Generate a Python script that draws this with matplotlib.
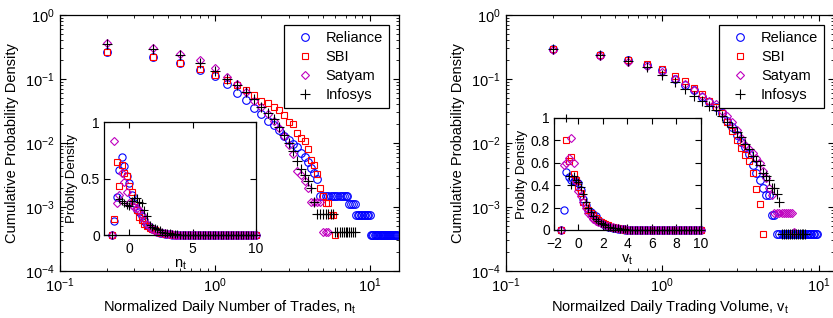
import matplotlib
matplotlib.use("Agg")
import matplotlib.pyplot as plt
import numpy as np

plt.rcParams['font.family'] = ['Liberation Sans', 'DejaVu Sans']
plt.rcParams['mathtext.fontset'] = 'custom'
plt.rcParams['mathtext.rm'] = 'Liberation Sans'
plt.rcParams['mathtext.it'] = 'Liberation Sans'

names = ["Reliance", "SBI", "Satyam", "Infosys"]

# CCDF bins (normalized value, step 0.2)
x_ccdf = np.round(np.arange(1, 76) * 0.2, 1)

# left: daily number of trades
trades_rel = [0.267, 0.218, 0.180, 0.138, 0.111, 0.083, 0.061, 0.047, 0.035, 0.028,
              0.022, 0.019, 0.016, 0.013, 0.0113, 0.0098, 0.0085, 0.0069, 0.006, 0.0050,
              0.0041, 0.0034, 0.0027] + [0.0015] * 13 + [0.00112] * 4 + [0.00075] * 10 + [0.00037] * 25
trades_sbi = [0.267, 0.218, 0.18, 0.143, 0.115, 0.096, 0.080, 0.066, 0.056, 0.046,
              0.042, 0.037, 0.033, 0.027, 0.021, 0.0196, 0.0145, 0.012, 0.0107, 0.0080,
              0.0055, 0.0045, 0.0033, 0.0020, 0.0015, 0.00114, 0.00114, 0.00075, 0.00075, 0.00037]
trades_sat = [0.36, 0.30, 0.246, 0.20, 0.15, 0.109, 0.082, 0.062, 0.046, 0.036,
              0.028, 0.022, 0.017, 0.013, 0.0093, 0.0067, 0.0036, 0.0031, 0.0025, 0.0020] \
    + [0.0012] * 4 + [0.0004] * 3
trades_inf = [0.35, 0.29, 0.235, 0.18, 0.135, 0.10, 0.08, 0.062, 0.048, 0.036,
              0.029, 0.024, 0.018, 0.0135, 0.010, 0.0076, 0.0053, 0.0039, 0.0032, 0.0025,
              0.0020, 0.0012] + [0.00078] * 7 + [0.0004] * 11

# right: daily trading volume
vol_rel = [0.29, 0.237, 0.20, 0.165, 0.138, 0.10, 0.081, 0.066, 0.053, 0.044,
           0.036, 0.029, 0.022, 0.018, 0.0133, 0.0105, 0.0085, 0.0066, 0.0045, 0.0034,
           0.0026, 0.0020, 0.00155, 0.00155] + [0.00075] * 2 + [0.00038] * 23
vol_sbi = [0.29, 0.237, 0.20, 0.17, 0.145, 0.113, 0.092, 0.072, 0.058, 0.046,
           0.036, 0.029, 0.021, 0.0155, 0.011, 0.0083, 0.0065, 0.0053, 0.0034, 0.0019,
           0.0011, 0.00038]
vol_sat = [0.28, 0.23, 0.185, 0.16, 0.13, 0.10, 0.082, 0.066, 0.055, 0.046,
           0.040, 0.032, 0.026, 0.021, 0.016, 0.012, 0.0093, 0.0080, 0.0069, 0.0058,
           0.0048, 0.0036, 0.0028, 0.002, 0.00155] + [0.0008] * 9 + [0.0004]
vol_inf = [0.29, 0.237, 0.19, 0.155, 0.116, 0.088, 0.07, 0.055, 0.046, 0.038,
           0.033, 0.026, 0.021, 0.018, 0.015, 0.0125, 0.0098, 0.0080, 0.0063, 0.0053,
           0.0045, 0.0034, 0.0030, 0.0026, 0.0020, 0.0020, 0.0016, 0.0012] + [0.00038] * 13

# inset PDFs (bins from -1.4, step 0.2)
x_pdf = np.round(np.arange(-1.4, 10.01, 0.2), 1)
nan = np.nan
pdf_n_rel = [0, 0.12, 0.34, 0.58, 0.69, 0.61, 0.52, 0.46, 0.35, 0.28, 0.22, 0.20, 0.17,
             0.12, 0.09, 0.07, 0.05, 0.04, 0.03, 0.02, 0.015, 0.01, 0.008, 0.005]
pdf_n_sbi = [0, 0.14, 0.65, 0.43, 0.62, 0.55, 0.52, 0.43, 0.38, 0.30, 0.22, 0.16, 0.13,
             0.10, 0.08, 0.06, 0.05, 0.04, 0.03, 0.02, 0.015, 0.01, 0.008, 0.005]
pdf_n_sat = [0, 0.835, 0.28, 0.35, 0.55, 0.47, 0.38, 0.28, 0.27, 0.25, 0.24, 0.22, 0.18,
             0.14, 0.10, 0.07, 0.05, 0.04, 0.03, 0.025, 0.02, 0.015, 0.01, 0.008, 0.005]
pdf_n_inf = [0, nan, nan, 0.32, 0.30, 0.28, 0.27, 0.26, 0.30, 0.33, 0.33, 0.29, 0.28,
             0.22, 0.17, 0.09, 0.07, 0.06, 0.05, 0.04, 0.03, 0.02, 0.02, 0.015, 0.01,
             0.008, 0.005]
pdf_v_rel = [0, 0.18, 0.52, 0.47, 0.45, 0.44, 0.43, 0.42, 0.36, 0.28, 0.22, 0.18, 0.16,
             0.14, 0.12, 0.09, 0.07, 0.05, 0.04, 0.03, 0.025, 0.02, 0.015, 0.01, 0.008, 0.005]
pdf_v_sbi = [0, nan, 0.80, 0.62, 0.65, 0.50, 0.45, 0.38, 0.33, 0.25, 0.22, 0.18, 0.15,
             0.13, 0.11, 0.09, 0.07, 0.06, 0.05, 0.04, 0.03, 0.025, 0.02, 0.015, 0.01, 0.005]
pdf_v_sat = [0, 0.58, 0.60, 0.64, 0.82, 0.60, 0.44, 0.35, 0.30, 0.25, 0.20, 0.15, 0.12,
             0.10, 0.08, 0.07, 0.06, 0.05, 0.04, 0.035, 0.03, 0.025, 0.02, 0.015, 0.01,
             0.008, 0.005]
pdf_v_inf = [0, nan, 1.0, 0.48, 0.40, 0.48, 0.45, 0.43, 0.38, 0.32, 0.25, 0.20, 0.16,
             0.12, 0.10, 0.08, 0.06, 0.05, 0.04, 0.03, 0.025, 0.02, 0.02, 0.015, 0.01,
             0.008, 0.005]

styles = [dict(marker="o", color="b", ms=5.5),
          dict(marker="s", color="r", ms=5),
          dict(marker="D", color="m", ms=4.5),
          dict(marker="+", color="k", ms=6.5)]


def pad(vals):
    return np.array(list(vals) + [0.0] * (len(x_pdf) - len(vals)))


def ticks_in(ax, size=10.5, pad_=4):
    ax.tick_params(which="both", direction="in", top=True, right=True,
                   labelsize=size, pad=pad_)
    ax.tick_params(which="major", length=4)
    ax.tick_params(which="minor", length=2)
    for s in ax.spines.values():
        s.set_linewidth(0.9)


def main_panel(ax, series, xlabel, xmax):
    for name, y, st in zip(names, series, styles):
        ax.plot(x_ccdf[:len(y)], y, ls="none", marker=st["marker"], ms=st["ms"],
                mfc="none", mec=st["color"], mew=0.8, label=name)
    ax.set_xscale("log")
    ax.set_yscale("log")
    ax.set_xlim(0.1, xmax)
    ax.set_ylim(1e-4, 1)
    ax.set_xlabel(xlabel, fontsize=10.5, labelpad=2)
    ax.set_ylabel("Cumulative Probability Density", fontsize=10.5, labelpad=4)
    ticks_in(ax)
    leg = ax.legend(loc="upper right", fontsize=10.5, fancybox=False,
                    edgecolor="k", framealpha=1, handlelength=2.0,
                    handletextpad=0.45, labelspacing=0.35, borderaxespad=0.7)
    leg.get_frame().set_linewidth(0.9)


def inset(ax, series, xlabel, xticks, yticks):
    for y, st in zip(series, styles):
        ax.plot(x_pdf, pad(y), ls="none", marker=st["marker"], ms=st["ms"] - 0.3,
                mfc="none", mec=st["color"], mew=0.8, clip_on=False)
    ax.set_xlim(-2, 10)
    ax.set_ylim(0, 1)
    ax.set_xticks(xticks)
    ax.set_yticks(yticks)
    ax.set_xlabel(xlabel, fontsize=10.5, labelpad=1)
    ax.set_ylabel("Problty Density", fontsize=9.5, labelpad=2)
    ticks_in(ax, size=10, pad_=3)
    ax.tick_params(axis="x", pad=5)


fig = plt.figure(figsize=(8.33, 3.18), dpi=100)
ax1 = fig.add_axes([0.072, 0.148, 0.407, 0.805])
ax2 = fig.add_axes([0.6075, 0.148, 0.394, 0.805])

main_panel(ax1, [trades_rel, trades_sbi, trades_sat, trades_inf],
           "Normalized Daily Number of Trades, $n_t$", 15.5)
main_panel(ax2, [vol_rel, vol_sbi, vol_sat, vol_inf],
           "Normailzed Daily Trading Volume, $v_t$", 12.6)

in1 = fig.add_axes([0.1248, 0.261, 0.1825, 0.355])
inset(in1, [pdf_n_rel, pdf_n_sbi, pdf_n_sat, pdf_n_inf], "$n_t$",
      [0, 5, 10], [0, 0.5, 1])
in1.set_yticklabels(["0", "0.5", "1"])
in2 = fig.add_axes([0.665, 0.277, 0.1765, 0.352])
inset(in2, [pdf_v_rel, pdf_v_sbi, pdf_v_sat, pdf_v_inf], "$v_t$",
      [-2, 0, 2, 4, 6, 8, 10], [0, 0.2, 0.4, 0.6, 0.8, 1])
in2.set_yticklabels(["0", "0.2", "0.4", "0.6", "0.8", "1"])

fig.savefig("out.png", dpi=100)
